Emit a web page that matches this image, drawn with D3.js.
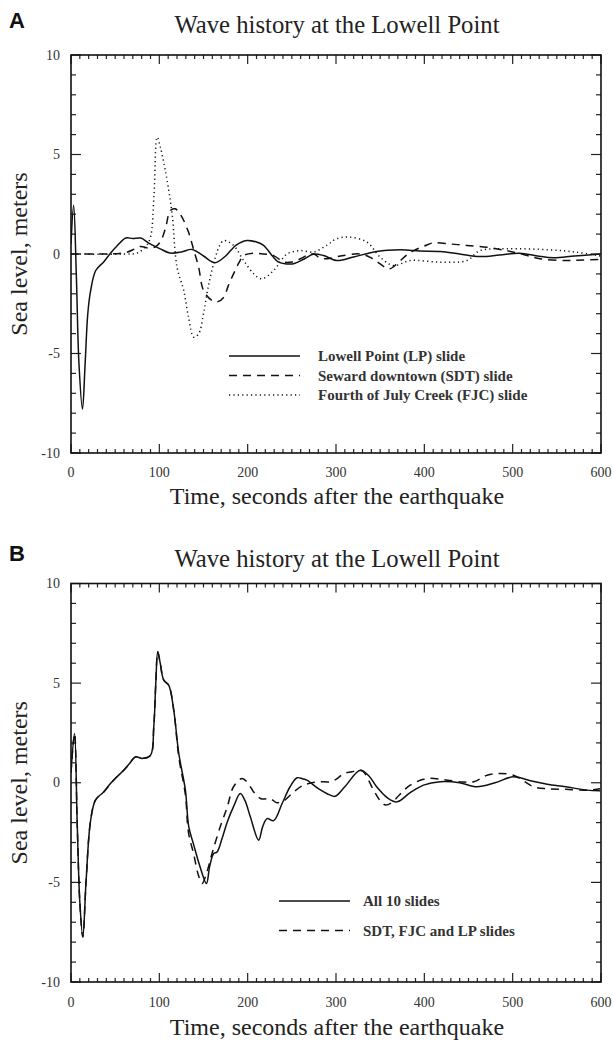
<!DOCTYPE html>
<html><head><meta charset="utf-8">
<script src="https://cdn.jsdelivr.net/npm/d3@7"></script>
<style>body{margin:0;background:#fff}svg{display:block}</style>
</head><body>
<script>
// ---------- DATA ----------
const panelTitles = ["Wave history at the Lowell Point", "Wave history at the Lowell Point"];
const panelLetters = ["A", "B"];
const xLabel = "Time, seconds after the earthquake";
const yLabel = "Sea level, meters";
const xTicks = [0, 100, 200, 300, 400, 500, 600];
const yTicks = [-10, -5, 0, 5, 10];

// Panel A: Lowell Point (LP) slide
const lpT = [0,3,6,9,13,16,19,22,28,37,44,52,62,70,79,88,101,112,125,137,150,163,175,187,199,210,218,228,235,244,252,264,275,286,301,320,346,373,395,418,440,463,485,508,528,546,570,599];
const lpV = [0.5,2.45,-1,-5.5,-7.8,-5.5,-3.0,-1.9,-0.83,-0.4,0,0.4,0.8,0.78,0.8,0.55,0.26,0.05,0.1,0.23,-0.1,-0.44,-0.1,0.45,0.68,0.6,0.43,-0.1,-0.41,-0.5,-0.49,-0.25,0.0,-0.08,-0.33,-0.15,0.13,0.21,0.15,0.13,0.0,-0.13,-0.05,0.04,-0.1,-0.19,-0.1,0];
// Panel A: Seward downtown (SDT) slide
const sdtT = [0,40,55,63.5,72,78.6,88,95,101,107,112.5,118,125,133,139,144.5,150,159.7,166,173,178,184,190,195.5,206.8,218,229.4,240.7,250,259.6,268,274.7,282,290,305,327.5,340,350,360,370,380,388,400,410,430,448,471,493,510,531,561,580,599];
const sdtV = [0,0,0.03,0.09,0.25,0.38,0.3,0.35,0.6,1.3,2.19,2.27,1.9,1.1,0.2,-0.66,-1.83,-2.34,-2.4,-2.17,-1.6,-1.0,-0.45,-0.08,0.04,0.0,-0.08,-0.4,-0.4,-0.24,-0.05,0,-0.2,-0.24,-0.1,0,-0.2,-0.5,-0.75,-0.45,-0.05,0.17,0.4,0.56,0.5,0.43,0.34,0.17,0.0,-0.24,-0.33,-0.3,-0.28];
// Panel A: Fourth of July Creek (FJC) slide
const fjcT = [0,60,75,85,90,94,97.5,101,105,108.8,114.5,120,127.6,133,139,144.6,150,156,163.5,168,173,184,195.5,207,216,229.4,244.6,259.6,274.7,290,300,314,335,350,365,384,418,448,463,493,542,572,599];
const fjcV = [0,0,0.05,0.4,0.85,3.0,5.87,5.4,4.6,3.7,2.0,-0.66,-1.83,-3.17,-4.18,-4.0,-3.0,-1.5,-0.16,0.4,0.68,0.43,-0.33,-1.0,-1.25,-0.83,0,0.17,0.1,0.45,0.75,0.85,0.6,-0.16,-0.58,-0.33,-0.41,-0.33,0.17,0.26,0.21,0.09,-0.1];

// Panel B: All 10 slides
const allT = [0,4,7,10,13.4,17,22,27.7,37,44.7,52,59.7,66,73,80.5,90,93.7,96,98.2,101,105,110.6,116.3,122,129.5,133.3,139,146,153.3,157,161.5,165.4,171,177,184,191.7,197,203,212.4,217,222,229.4,239,248,256,262,267,280,290,299,310,327.5,338,346,358,369,384,399,418,440,459.5,480,501,520,539,560,584,599];
const allV = [0.5,2.47,-2,-6,-7.74,-5,-1.96,-0.87,-0.46,-0.04,0.3,0.63,0.95,1.3,1.22,1.38,2.8,5.0,6.57,6.0,5.15,4.9,3.65,1.47,-0.37,-2.2,-3.13,-4.2,-5.06,-4.2,-3.55,-3.47,-2.8,-1.96,-1.2,-0.54,-0.9,-1.71,-2.88,-2.2,-1.8,-1.9,-1.04,-0.2,0.25,0.2,0.13,-0.3,-0.55,-0.68,-0.2,0.63,0.3,-0.2,-0.75,-0.96,-0.5,-0.12,0.05,0.0,-0.2,0.0,0.3,0.1,-0.07,-0.2,-0.37,-0.4];
// Panel B: SDT, FJC and LP slides
const sflT = [0,4,7,10,13.4,17,22,27.7,37,44.7,52,59.7,66,73,80.5,90,93.7,96,98.2,101,105,110.6,116.3,122,129.5,133,139,144,148.4,153,160,169,177,184,193.6,200,206.8,215,225.7,233,241,252,262,269,280,293.5,301,308.6,318,325.6,331,342.5,350,356,363,372,384,403,421.7,442.5,456,471,486,501,512,523.5,539,560,584,599];
const sflV = [0.5,2.47,-2,-6,-7.74,-5,-1.96,-0.87,-0.46,-0.04,0.3,0.63,0.95,1.3,1.22,1.38,2.8,5.0,6.57,6.0,5.15,4.9,3.65,1.3,-0.6,-2.5,-3.6,-4.6,-5.06,-4.6,-3.5,-2.2,-1.2,-0.2,0.21,0.0,-0.46,-0.8,-0.8,-1.0,-0.9,-0.46,-0.15,-0.04,0.05,0.05,0.2,0.46,0.55,0.63,0.55,-0.37,-0.9,-1.12,-1.0,-0.6,-0.12,0.21,0.16,0.04,0.05,0.38,0.46,0.38,0.1,-0.2,-0.3,-0.33,-0.37,-0.3];

const seriesA = [
  {name: "Lowell Point (LP) slide", t: lpT, v: lpV, dash: null},
  {name: "Seward downtown (SDT) slide", t: sdtT, v: sdtV, dash: "8,6"},
  {name: "Fourth of July Creek (FJC) slide", t: fjcT, v: fjcV, dash: "1.2,3.2"}
];
const seriesB = [
  {name: "All 10 slides", t: allT, v: allV, dash: null},
  {name: "SDT, FJC and LP slides", t: sflT, v: sflV, dash: "8,6"}
];

// ---------- LAYOUT ----------
const W = 613, H = 1042;
const svg = d3.select("body").append("svg").attr("width", W).attr("height", H);
const serif = "'Liberation Serif','Times New Roman',serif";

const panels = [
  {top: 55, bottom: 453, series: seriesA, legend: {x0: 229, x1: 300, tx: 318, y0: 356, dy: 19.5}, letterY: 28, titleY: 33, tickY: 477, labelY: 504},
  {top: 583.5, bottom: 982, series: seriesB, legend: {x0: 279, x1: 350, tx: 363, y0: 901, dy: 29.5}, letterY: 561, titleY: 567, tickY: 1007, labelY: 1035}
];
const left = 71, right = 601;

panels.forEach((p, i) => {
  const x = d3.scaleLinear().domain([0, 600]).range([left, right]);
  const y = d3.scaleLinear().domain([-10, 10]).range([p.bottom, p.top]);
  const g = svg.append("g");

  // letter & title
  g.append("text").attr("x", 9).attr("y", p.letterY).text(panelLetters[i])
    .attr("font-family", "'Liberation Sans',Arial,sans-serif").attr("font-weight", "bold").attr("font-size", 22).attr("fill", "#111");
  g.append("text").attr("x", 337).attr("y", p.titleY).attr("text-anchor", "middle").text(panelTitles[i])
    .attr("font-family", serif).attr("font-size", 24.7).attr("fill", "#222");

  // axes: ticks inward, all four sides
  const minorX = d3.range(0, 601, 10), minorY = d3.range(-10, 10.01, 1);
  const axG = g.append("g").attr("stroke", "#222").attr("stroke-width", 1.2);
  minorX.forEach(v => {
    const len = (v % 100 === 0) ? 9 : 4;
    axG.append("line").attr("x1", x(v)).attr("x2", x(v)).attr("y1", p.bottom).attr("y2", p.bottom - len);
    axG.append("line").attr("x1", x(v)).attr("x2", x(v)).attr("y1", p.top).attr("y2", p.top + len);
  });
  minorY.forEach(v => {
    const len = (Math.round(v) % 5 === 0) ? 10 : 5;
    axG.append("line").attr("x1", left).attr("x2", left + len).attr("y1", y(v)).attr("y2", y(v));
    axG.append("line").attr("x1", right).attr("x2", right - len).attr("y1", y(v)).attr("y2", y(v));
  });
  g.append("rect").attr("x", left).attr("y", p.top).attr("width", right - left).attr("height", p.bottom - p.top)
    .attr("fill", "none").attr("stroke", "#111").attr("stroke-width", 1.6);

  // tick labels
  xTicks.forEach(v => g.append("text").attr("x", x(v)).attr("y", p.tickY).attr("text-anchor", "middle")
    .text(v).attr("font-family", serif).attr("font-size", 14).attr("fill", "#333"));
  yTicks.forEach(v => g.append("text").attr("x", 60).attr("y", y(v) + 4.5).attr("text-anchor", "end")
    .text(v).attr("font-family", serif).attr("font-size", 14).attr("fill", "#333"));

  // axis titles
  g.append("text").attr("x", 337).attr("y", p.labelY).attr("text-anchor", "middle").text(xLabel)
    .attr("font-family", serif).attr("font-size", 24).attr("fill", "#222");
  const yc = (p.top + p.bottom) / 2;
  g.append("text").attr("transform", `translate(27,${yc}) rotate(-90)`).attr("text-anchor", "middle").text(yLabel)
    .attr("font-family", serif).attr("font-size", 24).attr("fill", "#222");

  // lines
  const line = d3.line().x(d => x(d[0])).y(d => y(d[1])).curve(d3.curveCatmullRom.alpha(0.5));
  const clipId = "clip" + i;
  svg.append("clipPath").attr("id", clipId).append("rect").attr("x", left).attr("y", p.top).attr("width", right - left).attr("height", p.bottom - p.top);
  p.series.slice().reverse().forEach(s => {
    g.append("path").attr("d", line(s.t.map((t, k) => [t, s.v[k]])))
      .attr("clip-path", `url(#${clipId})`)
      .attr("fill", "none").attr("stroke", "#111").attr("stroke-width", 1.5)
      .attr("stroke-dasharray", s.dash);
  });

  // legend
  p.series.forEach((s, k) => {
    const ly = p.legend.y0 + k * p.legend.dy;
    g.append("line").attr("x1", p.legend.x0).attr("x2", p.legend.x1).attr("y1", ly).attr("y2", ly)
      .attr("stroke", "#111").attr("stroke-width", 1.5).attr("stroke-dasharray", s.dash);
    g.append("text").attr("x", p.legend.tx).attr("y", ly + 5).text(s.name)
      .attr("font-family", serif).attr("font-weight", "bold").attr("font-size", 15).attr("fill", "#333");
  });
});
</script>
</body></html>
